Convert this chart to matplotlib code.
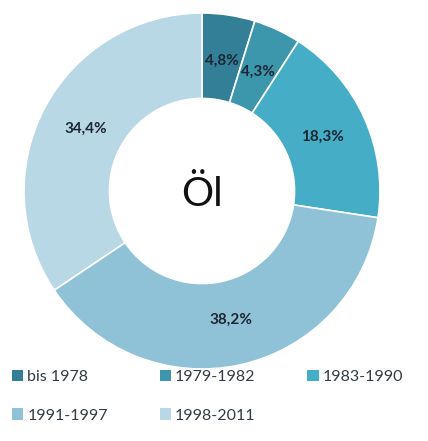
import numpy as np
import matplotlib.pyplot as plt
from matplotlib.patches import Patch

plt.rcParams["font.family"] = ["Lato", "DejaVu Sans"]

categories = ["bis 1978", "1979-1982", "1983-1990", "1991-1997", "1998-2011"]
shares = [4.8, 4.3, 18.3, 38.2, 34.4]
labels = ["4,8%", "4,3%", "18,3%", "38,2%", "34,4%"]
colors = ["#327f97", "#3c97ad", "#46adc6", "#8fc2d7", "#b8d8e6"]

fig = plt.figure(figsize=(4.28, 4.41), dpi=100)
ax = fig.add_axes([24 / 428, 72 / 441, 356 / 428, 356 / 441])

wedges, texts = ax.pie(
    shares, colors=colors, startangle=90, counterclock=False, radius=1,
    wedgeprops=dict(width=0.48, edgecolor="white", linewidth=1.2),
)

# percentage labels placed along the ring
cum = np.cumsum([0] + shares)
for i, lab in enumerate(labels):
    mid = 90 - (cum[i] + shares[i] / 2) / 100 * 360
    ang = np.deg2rad(mid)
    ax.text(0.74 * np.cos(ang), 0.74 * np.sin(ang), lab,
            ha="center", va="center", fontsize=11, fontweight="bold",
            color="#1c2733")

ax.text(0, -0.02, "Öl", ha="center", va="center", fontsize=29, color="#111111")
ax.set_xlim(-1, 1)
ax.set_ylim(-1, 1)
ax.set_aspect("equal")
ax.axis("off")

handles = [Patch(facecolor=c, edgecolor="none") for c in colors]
order = [0, 3, 1, 4, 2]
fig.legend([handles[i] for i in order], [categories[i] for i in order],
           ncol=3, loc="upper left", bbox_to_anchor=(-0.005, 0.193),
           frameon=False, fontsize=11.5, handlelength=0.7, handleheight=0.7,
           handletextpad=0.25, columnspacing=3.25, labelspacing=1.5,
           labelcolor="#333c44")

fig.savefig("out.png", dpi=100)
